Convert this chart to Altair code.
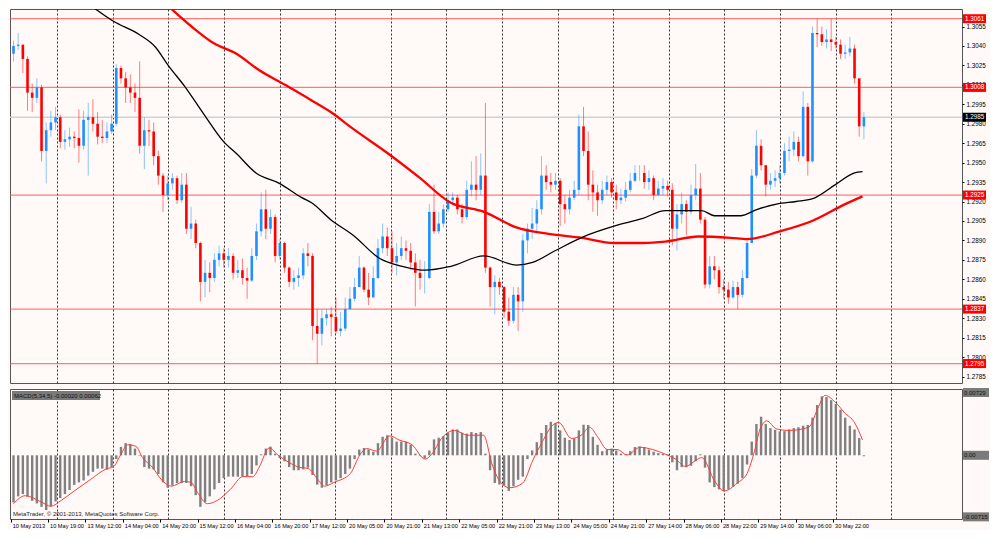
import altair as alt
import pandas as pd

# ---------------- data ----------------
time_labels = ["10 May 2013", "10 May 19:00", "13 May 12:00", "14 May 04:00", "14 May 20:00",
               "15 May 12:00", "16 May 04:00", "16 May 20:00", "17 May 12:00", "20 May 05:00",
               "20 May 21:00", "21 May 13:00", "22 May 05:00", "22 May 21:00", "23 May 13:00",
               "24 May 05:00", "24 May 21:00", "27 May 14:00", "28 May 06:00", "28 May 22:00",
               "29 May 14:00", "30 May 06:00", "30 May 22:00"]

price_ticks = [1.3055, 1.3040, 1.3025, 1.3010, 1.2995, 1.2980, 1.2965, 1.2950, 1.2935, 1.2920,
               1.2905, 1.2890, 1.2875, 1.2860, 1.2845, 1.2830, 1.2815, 1.2800, 1.2785]

level_prices = [1.3061, 1.3008, 1.2925, 1.2837, 1.2795]
bid_price = [1.2985]

first_open = 1.3034
closes = [1.3040, 1.3041, 1.3030, 1.3004, 1.3000, 1.3008, 1.2959, 1.2975, 1.2981, 1.2985,
          1.2966, 1.2968, 1.2970, 1.2969, 1.2963, 1.2983, 1.2985, 1.2980, 1.2970, 1.2969,
          1.2974, 1.2980, 1.3023, 1.3015, 1.3008, 1.3004, 1.3000, 1.2963, 1.2975, 1.2974,
          1.2955, 1.2940, 1.2925, 1.2934, 1.2938, 1.2921, 1.2933, 1.2899, 1.2903, 1.2888,
          1.2858, 1.2865, 1.2861, 1.2875, 1.2880, 1.2875, 1.2878, 1.2865, 1.2867, 1.2861,
          1.2859, 1.2878, 1.2897, 1.2914, 1.2899, 1.2908, 1.2878, 1.2888, 1.2869, 1.2858,
          1.2861, 1.2863, 1.2880, 1.2878, 1.2824, 1.2818, 1.2830, 1.2833, 1.2831, 1.2820,
          1.2822, 1.2837, 1.2845, 1.2854, 1.2869, 1.2852, 1.2846, 1.2861, 1.2884, 1.2893,
          1.2884, 1.2873, 1.2878, 1.2884, 1.2882, 1.2873, 1.2865, 1.2861, 1.2861, 1.2912,
          1.2897, 1.2903, 1.2914, 1.2921, 1.2923, 1.2914, 1.2908, 1.2929, 1.2933, 1.2929,
          1.2940, 1.2869, 1.2854, 1.2858, 1.2854, 1.2835, 1.2828, 1.2848, 1.2843, 1.2890,
          1.2899, 1.2903, 1.2914, 1.2940, 1.2935, 1.2933, 1.2936, 1.2918, 1.2914, 1.2923,
          1.2929, 1.2978, 1.2959, 1.2933, 1.2927, 1.2921, 1.2929, 1.2935, 1.2927, 1.2921,
          1.2923, 1.2929, 1.2936, 1.2942, 1.2942, 1.2935, 1.2938, 1.2925, 1.2930, 1.2932,
          1.2929, 1.2899, 1.2910, 1.2918, 1.2912, 1.2925, 1.2930, 1.2906, 1.2856, 1.2870,
          1.2867, 1.2854, 1.2852, 1.2846, 1.2854, 1.2848, 1.2861, 1.2888, 1.2940, 1.2963,
          1.2948, 1.2933, 1.2936, 1.2938, 1.2942, 1.2959, 1.2960, 1.2966, 1.2955, 1.2993,
          1.2951, 1.3050, 1.3049, 1.3043, 1.3045, 1.3043, 1.3041, 1.3034, 1.3035, 1.3038,
          1.3015, 1.2978, 1.2985]

highs = [1.3044, 1.3050, 1.3041, 1.3032, 1.3011, 1.3015, 1.3010, 1.2981, 1.2990, 1.2993,
         1.2987, 1.2975, 1.2977, 1.2974, 1.2991, 1.2990, 1.2996, 1.2999, 1.2989, 1.2983,
         1.2981, 1.2987, 1.3026, 1.3025, 1.3020, 1.3018, 1.3011, 1.3028, 1.2985, 1.2983,
         1.2981, 1.2959, 1.2942, 1.2940, 1.2942, 1.2940, 1.2942, 1.2942, 1.2916, 1.2906,
         1.2889, 1.2875, 1.2873, 1.2880, 1.2886, 1.2884, 1.2884, 1.2880, 1.2875, 1.2876,
         1.2869, 1.2884, 1.2903, 1.2927, 1.2929, 1.2914, 1.2910, 1.2891, 1.2889, 1.2870,
         1.2867, 1.2869, 1.2884, 1.2888, 1.2880, 1.2837, 1.2837, 1.2837, 1.2839, 1.2846,
         1.2835, 1.2846, 1.2854, 1.2861, 1.2878, 1.2870, 1.2865, 1.2870, 1.2891, 1.2903,
         1.2900, 1.2897, 1.2888, 1.2893, 1.2890, 1.2888, 1.2880, 1.2875, 1.2874, 1.2918,
         1.2933, 1.2912, 1.2918, 1.2927, 1.2927, 1.2925, 1.2918, 1.2936, 1.2951, 1.2955,
         1.2957, 1.2996, 1.2870, 1.2863, 1.2861, 1.2855, 1.2846, 1.2854, 1.2854, 1.2895,
         1.2903, 1.2915, 1.2921, 1.2955, 1.2948, 1.2942, 1.2942, 1.2938, 1.2925, 1.2929,
         1.2936, 1.2987, 1.2993, 1.2974, 1.2944, 1.2933, 1.2936, 1.2940, 1.2938, 1.2933,
         1.2930, 1.2935, 1.2942, 1.2948, 1.2948, 1.2948, 1.2944, 1.2940, 1.2936, 1.2938,
         1.2936, 1.2934, 1.2918, 1.2927, 1.2921, 1.2933, 1.2949, 1.2942, 1.2908, 1.2878,
         1.2878, 1.2870, 1.2860, 1.2858, 1.2859, 1.2858, 1.2867, 1.2891, 1.2945, 1.2975,
         1.2968, 1.2948, 1.2942, 1.2944, 1.2948, 1.2965, 1.2970, 1.2974, 1.2970, 1.3005,
         1.2996, 1.3055, 1.3061, 1.3055, 1.3053, 1.3061, 1.3047, 1.3045, 1.3041, 1.3047,
         1.3041, 1.3015, 1.2989]

lows = [1.3028, 1.3037, 1.3019, 1.2990, 1.2989, 1.2996, 1.2951, 1.2934, 1.2970, 1.2975,
        1.2961, 1.2960, 1.2962, 1.2961, 1.2950, 1.2960, 1.2940, 1.2974, 1.2964, 1.2965,
        1.2965, 1.2972, 1.2978, 1.3011, 1.2996, 1.2996, 1.2989, 1.2957, 1.2945, 1.2963,
        1.2948, 1.2933, 1.2912, 1.2921, 1.2929, 1.2918, 1.2919, 1.2895, 1.2891, 1.2884,
        1.2843, 1.2846, 1.2850, 1.2858, 1.2870, 1.2869, 1.2869, 1.2860, 1.2861, 1.2856,
        1.2845, 1.2858, 1.2875, 1.2893, 1.2891, 1.2895, 1.2873, 1.2875, 1.2865, 1.2854,
        1.2852, 1.2854, 1.2860, 1.2870, 1.2813, 1.2795, 1.2809, 1.2824, 1.2816, 1.2818,
        1.2816, 1.2820, 1.2837, 1.2843, 1.2854, 1.2850, 1.2840, 1.2846, 1.2860, 1.2880,
        1.2878, 1.2865, 1.2863, 1.2875, 1.2875, 1.2867, 1.2839, 1.2852, 1.2849, 1.2860,
        1.2895, 1.2895, 1.2900, 1.2912, 1.2918, 1.2910, 1.2903, 1.2906, 1.2924, 1.2921,
        1.2925, 1.2865, 1.2839, 1.2833, 1.2848, 1.2830, 1.2824, 1.2826, 1.2820, 1.2835,
        1.2880, 1.2891, 1.2895, 1.2910, 1.2929, 1.2927, 1.2929, 1.2901, 1.2903, 1.2910,
        1.2921, 1.2925, 1.2955, 1.2921, 1.2912, 1.2909, 1.2918, 1.2925, 1.2923, 1.2914,
        1.2918, 1.2920, 1.2927, 1.2935, 1.2936, 1.2930, 1.2929, 1.2921, 1.2924, 1.2925,
        1.2924, 1.2886, 1.2882, 1.2903, 1.2894, 1.2910, 1.2921, 1.2903, 1.2853, 1.2853,
        1.2860, 1.2849, 1.2845, 1.2841, 1.2845, 1.2837, 1.2846, 1.2860, 1.2888, 1.2938,
        1.2944, 1.2924, 1.2929, 1.2931, 1.2934, 1.2940, 1.2951, 1.2955, 1.2951, 1.2954,
        1.2940, 1.2950, 1.3039, 1.3040, 1.3038, 1.3036, 1.3038, 1.3030, 1.3030, 1.3032,
        1.3011, 1.2970, 1.2968]

ma_black_k = [16.4, 21.4, 26.8, 30.4, 33.1, 36.6, 40.8, 45, 47.7, 51.9,
              56.9, 61.7, 63.8, 67.9, 72.7, 78.4, 83.2, 88.2, 93.6, 100.7,
              107.6, 111.1, 115.9, 122.8, 128.5, 134.7, 139.5, 147.3, 150, 155.6,
              159.2, 163.3, 167.5, 170.9, 175.9, 180, 181.7]
ma_black_v = [1.30715, 1.3059, 1.3049, 1.3039, 1.3025, 1.3009, 1.2987, 1.2966, 1.2957, 1.2942,
              1.2934, 1.2923, 1.2919, 1.2906, 1.2894, 1.2876, 1.2870, 1.2867, 1.2870, 1.2878,
              1.2871, 1.2873, 1.2882, 1.2894, 1.2901, 1.2907, 1.2913, 1.2913, 1.2909, 1.2909,
              1.2914, 1.2918, 1.2920, 1.2922, 1.2933, 1.2942, 1.2943]

ma_red_k = [32.9, 38.1, 42.9, 47.7, 52.7, 58.1, 63.8, 67.9, 72.7, 79.8,
            86.7, 93.6, 100.7, 107.6, 114.5, 121.6, 128.5, 134.7, 139.5, 146.6,
            153.5, 157.1, 164, 170.9, 178, 181.7]
ma_red_v = [1.30715, 1.3055, 1.3042, 1.3034, 1.3021, 1.3010, 1.2998, 1.2989, 1.2976, 1.2958,
            1.2939, 1.2919, 1.2912, 1.2900, 1.2895, 1.2892, 1.2888, 1.2888, 1.2889, 1.2893,
            1.2892, 1.2891, 1.2897, 1.2905, 1.2918, 1.2924]

macd_hist = [-0.00548, -0.00477, -0.00451, -0.00481, -0.00529, -0.00559, -0.00599, -0.00636, -0.00592, -0.00537,
             -0.00496, -0.00451, -0.00403, -0.00344, -0.00315, -0.00292, -0.00237, -0.00192, -0.00155, -0.00155,
             -0.00167, -0.00137, -0.00044, 0.00096, 0.00141, 0.00130, 0.00078, -0.00007, -0.00137, -0.00155,
             -0.00167, -0.00218, -0.00315, -0.00377, -0.00352, -0.00322, -0.00322, -0.00322, -0.00359, -0.00463,
             -0.00599, -0.00544, -0.00477, -0.00396, -0.00322, -0.00266, -0.00248, -0.00248, -0.00248, -0.00248,
             -0.00241, -0.00218, -0.00118, 0.00011, 0.00078, 0.00100, 0.00019, -0.00033, -0.00070, -0.00137,
             -0.00174, -0.00174, -0.00163, -0.00144, -0.00229, -0.00340, -0.00377, -0.00348, -0.00315, -0.00292,
             -0.00266, -0.00218, -0.00155, -0.00044, 0.00067, 0.00085, 0.00067, 0.00041, 0.00141, 0.00215,
             0.00233, 0.00204, 0.00159, 0.00159, 0.00159, 0.00122, 0.00019, -0.00007, -0.00037, 0.00056,
             0.00185, 0.00204, 0.00222, 0.00263, 0.00300, 0.00300, 0.00263, 0.00252, 0.00270, 0.00259,
             0.00270, 0.00019, -0.00174, -0.00322, -0.00340, -0.00352, -0.00414, -0.00359, -0.00285, -0.00248,
             -0.00044, 0.00056, 0.00152, 0.00259, 0.00352, 0.00389, 0.00374, 0.00289, 0.00204, 0.00178,
             0.00196, 0.00289, 0.00355, 0.00352, 0.00215, 0.00122, 0.00048, 0.00067, 0.00078, 0.00056,
             0.00019, 0.00011, 0.00048, 0.00096, 0.00104, 0.00096, 0.00067, 0.00041, 0.00026, 0.00015,
             0.00011, -0.00081, -0.00174, -0.00137, -0.00137, -0.00122, -0.00070, 0.00011, -0.00144, -0.00315,
             -0.00370, -0.00396, -0.00414, -0.00396, -0.00366, -0.00329, -0.00266, -0.00107, 0.00159, 0.00363,
             0.00448, 0.00363, 0.00315, 0.00296, 0.00278, 0.00281, 0.00300, 0.00315, 0.00326, 0.00344,
             0.00352, 0.00437, 0.00585, 0.00685, 0.00677, 0.00640, 0.00596, 0.00529, 0.00437, 0.00344,
             0.00300, 0.00200, -0.00011]

signal_k = [0, 2.5, 6, 8, 10.2, 13, 16.4, 20, 21.3, 23,
            24.4, 26.2, 27.6, 29.7, 31.7, 33.8, 36.6, 38, 39.4, 41.5,
            43.6, 46.4, 49.1, 51.2, 52.6, 54.7, 56.8, 58.9, 61, 63.1,
            65.2, 66.5, 68.6, 72.1, 74.2, 75.6, 77.7, 80.5, 82.5, 85.3,
            88.1, 89.5, 91.6, 94.4, 97.2, 100.6, 102.4, 104.1, 106.2, 109,
            111.1, 113.2, 115.3, 116.7, 119.4, 121.5, 123.3, 125, 127.1, 129.2,
            131.3, 134.1, 136.8, 139.6, 141.7, 143.8, 145.9, 147.3, 150.1, 152.1,
            154.9, 157, 158.4, 159.8, 161.2, 163.3, 166, 170.2, 172.3, 173.7,
            175.8, 177.9, 180, 181.7]
signal_v = [-0.00562, -0.00470, -0.00544, -0.00592, -0.00525, -0.00414, -0.00285, -0.00155, -0.00137, 0.00011,
            0.00122, 0.00104, -0.00026, -0.00137, -0.00285, -0.00359, -0.00303, -0.00315, -0.00433, -0.00562,
            -0.00525, -0.00396, -0.00248, -0.00248, -0.00137, 0.00085, -0.00007, -0.00081, -0.00137, -0.00155,
            -0.00285, -0.00359, -0.00315, -0.00211, 0.00011, 0.00078, 0.00048, 0.00226, 0.00178, 0.00122,
            -0.00044, 0.00011, 0.00196, 0.00289, 0.00233, 0.00233, -0.00100, -0.00303, -0.00377, -0.00322,
            -0.00063, 0.00159, 0.00344, 0.00381, 0.00196, 0.00233, 0.00326, 0.00215, 0.00067, 0.00067,
            0.00004, 0.00093, 0.00067, 0.00011, -0.00044, -0.00130, -0.00063, -0.00026, -0.00303, -0.00414,
            -0.00322, -0.00211, 0.00011, 0.00307, 0.00400, 0.00307, 0.00289, 0.00326, 0.00566, 0.00696,
            0.00622, 0.00492, 0.00381, 0.00178]

macd_tag_vals = [0.00729, 0.0, -0.00715]
macd_tag_text = ["0.00729", "0.00", "-0.00715"]
macd_title = ["MACD(5,34,5) -0.00020 0.00062"]
copyright_text = ["MetaTrader, \u00a9 2001-2013, MetaQuotes Software Corp."]

# ---------------- layout / style ----------------
W = 952
H1 = 374
H2 = 130
FONT = "Liberation Sans"
BG = "#FFFAF8"
GRID = "#333333"

n = len(closes)
opens = [first_open] + closes[:-1]
candles = pd.DataFrame({"k": list(range(n)), "open": opens, "close": closes,
                        "high": highs, "low": lows})
candles["dir"] = ["up" if c >= o else "down" for o, c in zip(opens, closes)]

xscale = alt.Scale(domain=[-0.75, 203.0], nice=False, zero=False)
grid_vals = [round(9.33 + 11.9 * m, 3) for m in range(16)]
label_vals = [8 * j - 0.6 for j in range(len(time_labels))]

main_x_axis = alt.Axis(values=grid_vals, grid=True, gridDash=[2, 2], gridColor=GRID,
                       gridWidth=1, labels=False, ticks=False, domain=False,
                       title=None, zindex=0)

is_lab = "abs((datum.value + 0.6) / 8 - round((datum.value + 0.6) / 8)) < 0.001"
arr = "[" + ",".join("'%s'" % s for s in time_labels) + "]"
macd_x_axis = alt.Axis(
    values=sorted(grid_vals + label_vals), grid=True, gridDash=[2, 2], gridColor=GRID,
    gridWidth=1,
    gridOpacity={"condition": {"test": is_lab, "value": 0}, "value": 1},
    tickOpacity={"condition": {"test": is_lab, "value": 1}, "value": 0},
    labelExpr=f"({is_lab}) ? {arr}[round((datum.value + 0.6) / 8)] : ''",
    labelAlign="left", labelOffset=1.5, labelFont=FONT, labelFontSize=5.6,
    labelColor="#000000", labelPadding=1, labelOverlap=False, labelFlush=False,
    labelBound=False, tickSize=3, tickColor="#000000", domain=False, title=None,
    zindex=0)

yscale = alt.Scale(domain=[1.2780, 1.30685], nice=False, zero=False)
yaxis = alt.Axis(orient="right", values=price_ticks, format=".4f", labelFont=FONT,
                 labelFontSize=6.3, labelColor="#000000", tickSize=2, tickColor="#000000",
                 domain=False, grid=False, title=None, labelPadding=2, zindex=0,
                 labelOverlap=False)


def Y(field):
    return alt.Y(field, type="quantitative", scale=yscale, axis=yaxis)


def XM():
    return alt.X("k:Q", scale=xscale, axis=main_x_axis)


dir_color = alt.Color("dir:N", scale=alt.Scale(domain=["up", "down"],
                                               range=["#1E90FF", "#FF0000"]), legend=None)

levels_df = pd.DataFrame({"p": level_prices, "label": [f"{p:.4f}" for p in level_prices]})
bid_df = pd.DataFrame({"p": bid_price, "label": [f"{p:.4f}" for p in bid_price]})
black_df = pd.DataFrame({"k": ma_black_k, "v": ma_black_v})
red_df = pd.DataFrame({"k": ma_red_k, "v": ma_red_v})

bid_rule = alt.Chart(bid_df).mark_rule(color="#D2D2D2", strokeWidth=1.6).encode(y=Y("p"))
level_rule = alt.Chart(levels_df).mark_rule(color="#FF5050", strokeWidth=1.3, opacity=0.75).encode(y=Y("p"))

wicks = alt.Chart(candles).mark_rule(strokeWidth=1, opacity=0.5).encode(
    x=XM(), y=Y("low"), y2="high", color=dir_color)
bodies = alt.Chart(candles).mark_rule(strokeWidth=2.6).encode(
    x=XM(), y=Y("open"), y2="close", color=dir_color)

ma_red = alt.Chart(red_df).mark_line(color="#FF0000", strokeWidth=2.3,
                                     interpolate="monotone", clip=True).encode(x=XM(), y=Y("v"))
ma_black = alt.Chart(black_df).mark_line(color="#000000", strokeWidth=1.3,
                                         interpolate="monotone", clip=True).encode(x=XM(), y=Y("v"))

lvl_box = alt.Chart(levels_df).mark_rect(color="#FF0000", yOffset=-4.5, y2Offset=4.5).encode(
    x=alt.value(W + 1), x2=alt.value(W + 24), y=Y("p"), y2="p")
lvl_txt = alt.Chart(levels_df).mark_text(align="left", baseline="middle", color="#FFFFFF",
                                         font=FONT, fontSize=6.3).encode(
    x=alt.value(W + 3), y=Y("p"), text="label:N")
bid_box = alt.Chart(bid_df).mark_rect(color="#000000", yOffset=-4.5, y2Offset=4.5).encode(
    x=alt.value(W + 1), x2=alt.value(W + 24), y=Y("p"), y2="p")
bid_txt = alt.Chart(bid_df).mark_text(align="left", baseline="middle", color="#FFFFFF",
                                      font=FONT, fontSize=6.3).encode(
    x=alt.value(W + 3), y=Y("p"), text="label:N")

main = alt.layer(bid_rule, level_rule, wicks, bodies, ma_red, ma_black,
                 lvl_box, lvl_txt, bid_box, bid_txt).properties(width=W, height=H1)

# ---------------- MACD panel ----------------
mscale = alt.Scale(domain=[-0.0074, 0.0077], nice=False, zero=False)
macd_df = pd.DataFrame({"k": list(range(n)), "m": macd_hist})
sig_df = pd.DataFrame({"k": signal_k, "v": signal_v})
mtag_df = pd.DataFrame({"v": macd_tag_vals, "t": macd_tag_text})
title_df = pd.DataFrame({"t": macd_title})
copy_df = pd.DataFrame({"t": copyright_text})

MX = alt.X("k:Q", scale=xscale, axis=macd_x_axis)

hist = alt.Chart(macd_df).mark_rule(strokeWidth=2.4, color="#808080").encode(
    x=MX, y=alt.Y("m:Q", scale=mscale, axis=None), y2=alt.datum(0))
sig = alt.Chart(sig_df).mark_line(color="#FF3B3B", strokeWidth=1, interpolate="monotone").encode(
    x=MX, y=alt.Y("v:Q", scale=mscale, axis=None))
mtag_box = alt.Chart(mtag_df).mark_rect(color="#7A7A7A", yOffset=-4.5, y2Offset=4.5).encode(
    x=alt.value(W + 1), x2=alt.value(W + 27), y=alt.Y("v:Q", scale=mscale, axis=None), y2="v")
mtag_txt = alt.Chart(mtag_df).mark_text(align="left", baseline="middle", color="#111111",
                                        font=FONT, fontSize=6).encode(
    x=alt.value(W + 2), y=alt.Y("v:Q", scale=mscale, axis=None), text="t:N")
title_box = alt.Chart(title_df).mark_rect(color="#7A7A7A").encode(
    x=alt.value(2), x2=alt.value(90), y=alt.value(2), y2=alt.value(11))
title_txt = alt.Chart(title_df).mark_text(align="left", baseline="middle", color="#111111",
                                          font=FONT, fontSize=6).encode(
    x=alt.value(4), y=alt.value(6.5), text="t:N")
copy_txt = alt.Chart(copy_df).mark_text(align="left", baseline="middle", color="#222222",
                                        font=FONT, fontSize=6).encode(
    x=alt.value(3), y=alt.value(H2 - 5), text="t:N")

macd = alt.layer(hist, sig, mtag_box, mtag_txt, title_box, title_txt, copy_txt).properties(
    width=W, height=H2)

chart = alt.vconcat(main, macd, spacing=3).properties(
    background=BG, padding=0
).configure_view(stroke="#555555", strokeWidth=1)

chart.save("out.html", embed_options={"renderer": "svg", "actions": False})
